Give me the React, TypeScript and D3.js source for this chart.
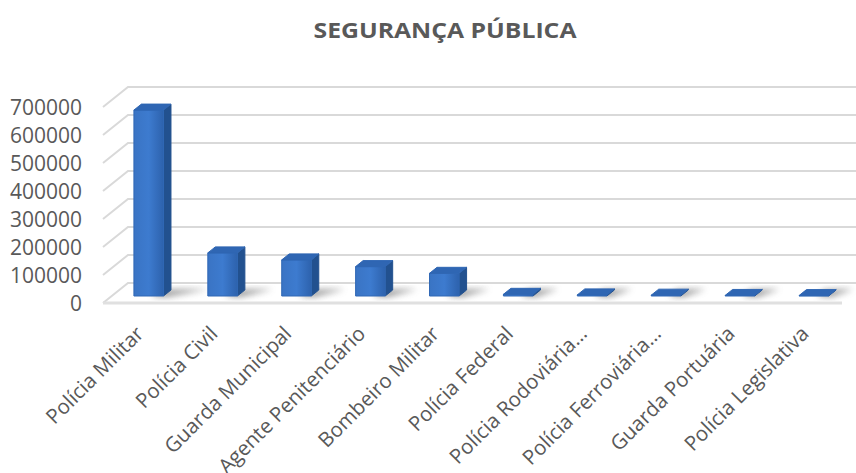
import React from 'react'
import * as d3 from 'd3'

const width = 856
const height = 473

const categories = [
    'Polícia Militar',
    'Polícia Civil',
    'Guarda Municipal',
    'Agente Penitenciário',
    'Bombeiro Militar',
    'Polícia Federal',
    'Polícia Rodoviária…',
    'Polícia Ferroviária…',
    'Guarda Portuária',
    'Polícia Legislativa',
]
const values = [664000, 154000, 129000, 105000, 81000, 6000, 4000, 3000, 2000, 1500]
const ticks = [0, 100000, 200000, 300000, 400000, 500000, 600000, 700000]

// oblique "3d" frame: front plane plus a depth offset
const front = { left: 103, right: 842, floor: 303 }
const depth = { dx: 25, dy: -20 }
const barDepth = [0.35, 0.65]

const xScale = d3
    .scaleBand()
    .domain(categories)
    .range([front.left, front.right])
    .paddingInner(0.6)
    .paddingOuter(0.3)

const yScale = d3.scaleLinear().domain([0, 700000]).range([0, 196])

const proj = (x: number, v: number, d: number): [number, number] => [
    x + depth.dx * d,
    front.floor - yScale(v) + depth.dy * d,
]

const poly = (pts: [number, number][]) => pts.map((p) => p.join(',')).join(' ')

const font = '"Open Sans", "Liberation Sans", sans-serif'

const App = () => {
    const bw = xScale.bandwidth()
    const [d0, d1] = barDepth

    return (
        <svg width={width} height={height} style={{ position: 'absolute', left: 0, top: 0 }}>
            <defs>
                <linearGradient id="frontFace" x1="0" y1="0" x2="1" y2="0">
                    <stop offset="0" stopColor="#3a74c4" />
                    <stop offset="0.5" stopColor="#3d7bcf" />
                    <stop offset="1" stopColor="#2d62ad" />
                </linearGradient>
                <filter id="blur" x="-50%" y="-50%" width="200%" height="200%">
                    <feGaussianBlur stdDeviation="3" />
                </filter>
            </defs>
            <rect width={width} height={height} fill="#fff" />

            <text
                x={445}
                y={38}
                textAnchor="middle"
                fontFamily={font}
                fontWeight="bold"
                fontSize={22}
                fill="#595959"
                textLength={263}
                lengthAdjust="spacingAndGlyphs"
            >
                SEGURANÇA PÚBLICA
            </text>

            {/* back wall + side wall gridlines */}
            <g stroke="#d9d9d9" strokeWidth={2} fill="none">
                {ticks.map((t) => {
                    const a = proj(front.left, t, 0)
                    const b = proj(front.left, t, 1)
                    const c = proj(front.right + 30, t, 1)
                    return <polyline key={t} points={poly([a, b, c])} />
                })}
            </g>
            {/* floor front edge */}
            <line
                x1={front.left}
                y1={front.floor}
                x2={front.right}
                y2={front.floor}
                stroke="#e0e0e0"
                strokeWidth={3}
            />

            {/* floor shadows */}
            <g filter="url(#blur)" opacity={0.7}>
                {categories.map((c, i) => {
                    const x = xScale(c)!
                    const l = Math.min(yScale(values[i]) * 0.25, 20)
                    const pts = poly([
                        proj(x + bw * 0.6, 0, d0),
                        proj(x + bw + 4, 0, d0 - 0.05),
                        proj(x + bw + 16 + l, 0, d1 + 0.05),
                        proj(x + bw * 0.6, 0, d1),
                    ])
                    return <polygon key={c} points={pts} fill="#707070" />
                })}
            </g>

            {/* bars */}
            {categories.map((c, i) => {
                const x = xScale(c)!
                const v = values[i]
                const frontPts = poly([
                    proj(x, 0, d0),
                    proj(x + bw, 0, d0),
                    proj(x + bw, v, d0),
                    proj(x, v, d0),
                ])
                const sidePts = poly([
                    proj(x + bw, 0, d0),
                    proj(x + bw, 0, d1),
                    proj(x + bw, v, d1),
                    proj(x + bw, v, d0),
                ])
                const topPts = poly([
                    proj(x, v, d0),
                    proj(x + bw, v, d0),
                    proj(x + bw, v, d1),
                    proj(x, v, d1),
                ])
                return (
                    <g key={c} strokeLinejoin="round">
                        <polygon points={sidePts} fill="#22518f" stroke="#22518f" strokeWidth={1} />
                        <polygon points={frontPts} fill="url(#frontFace)" stroke="#3068b5" strokeWidth={1} />
                        <polygon points={topPts} fill="#2f66b3" stroke="#2f66b3" strokeWidth={1} />
                    </g>
                )
            })}

            {/* y axis labels */}
            <g fontFamily={font} fontSize={21} fill="#595959" textAnchor="end">
                {ticks.map((t) => (
                    <text key={t} x={82} y={proj(0, t, 0)[1]} dy="0.36em">
                        {t}
                    </text>
                ))}
            </g>

            {/* category labels */}
            <g fontFamily={font} fontSize={20.5} fill="#595959" textAnchor="end">
                {categories.map((c) => {
                    const cx = xScale(c)! + bw / 2 + 5
                    const cy = 335
                    return (
                        <text key={c} transform={`translate(${cx},${cy}) rotate(-45)`}>
                            {c}
                        </text>
                    )
                })}
            </g>
        </svg>
    )
}

export default App
